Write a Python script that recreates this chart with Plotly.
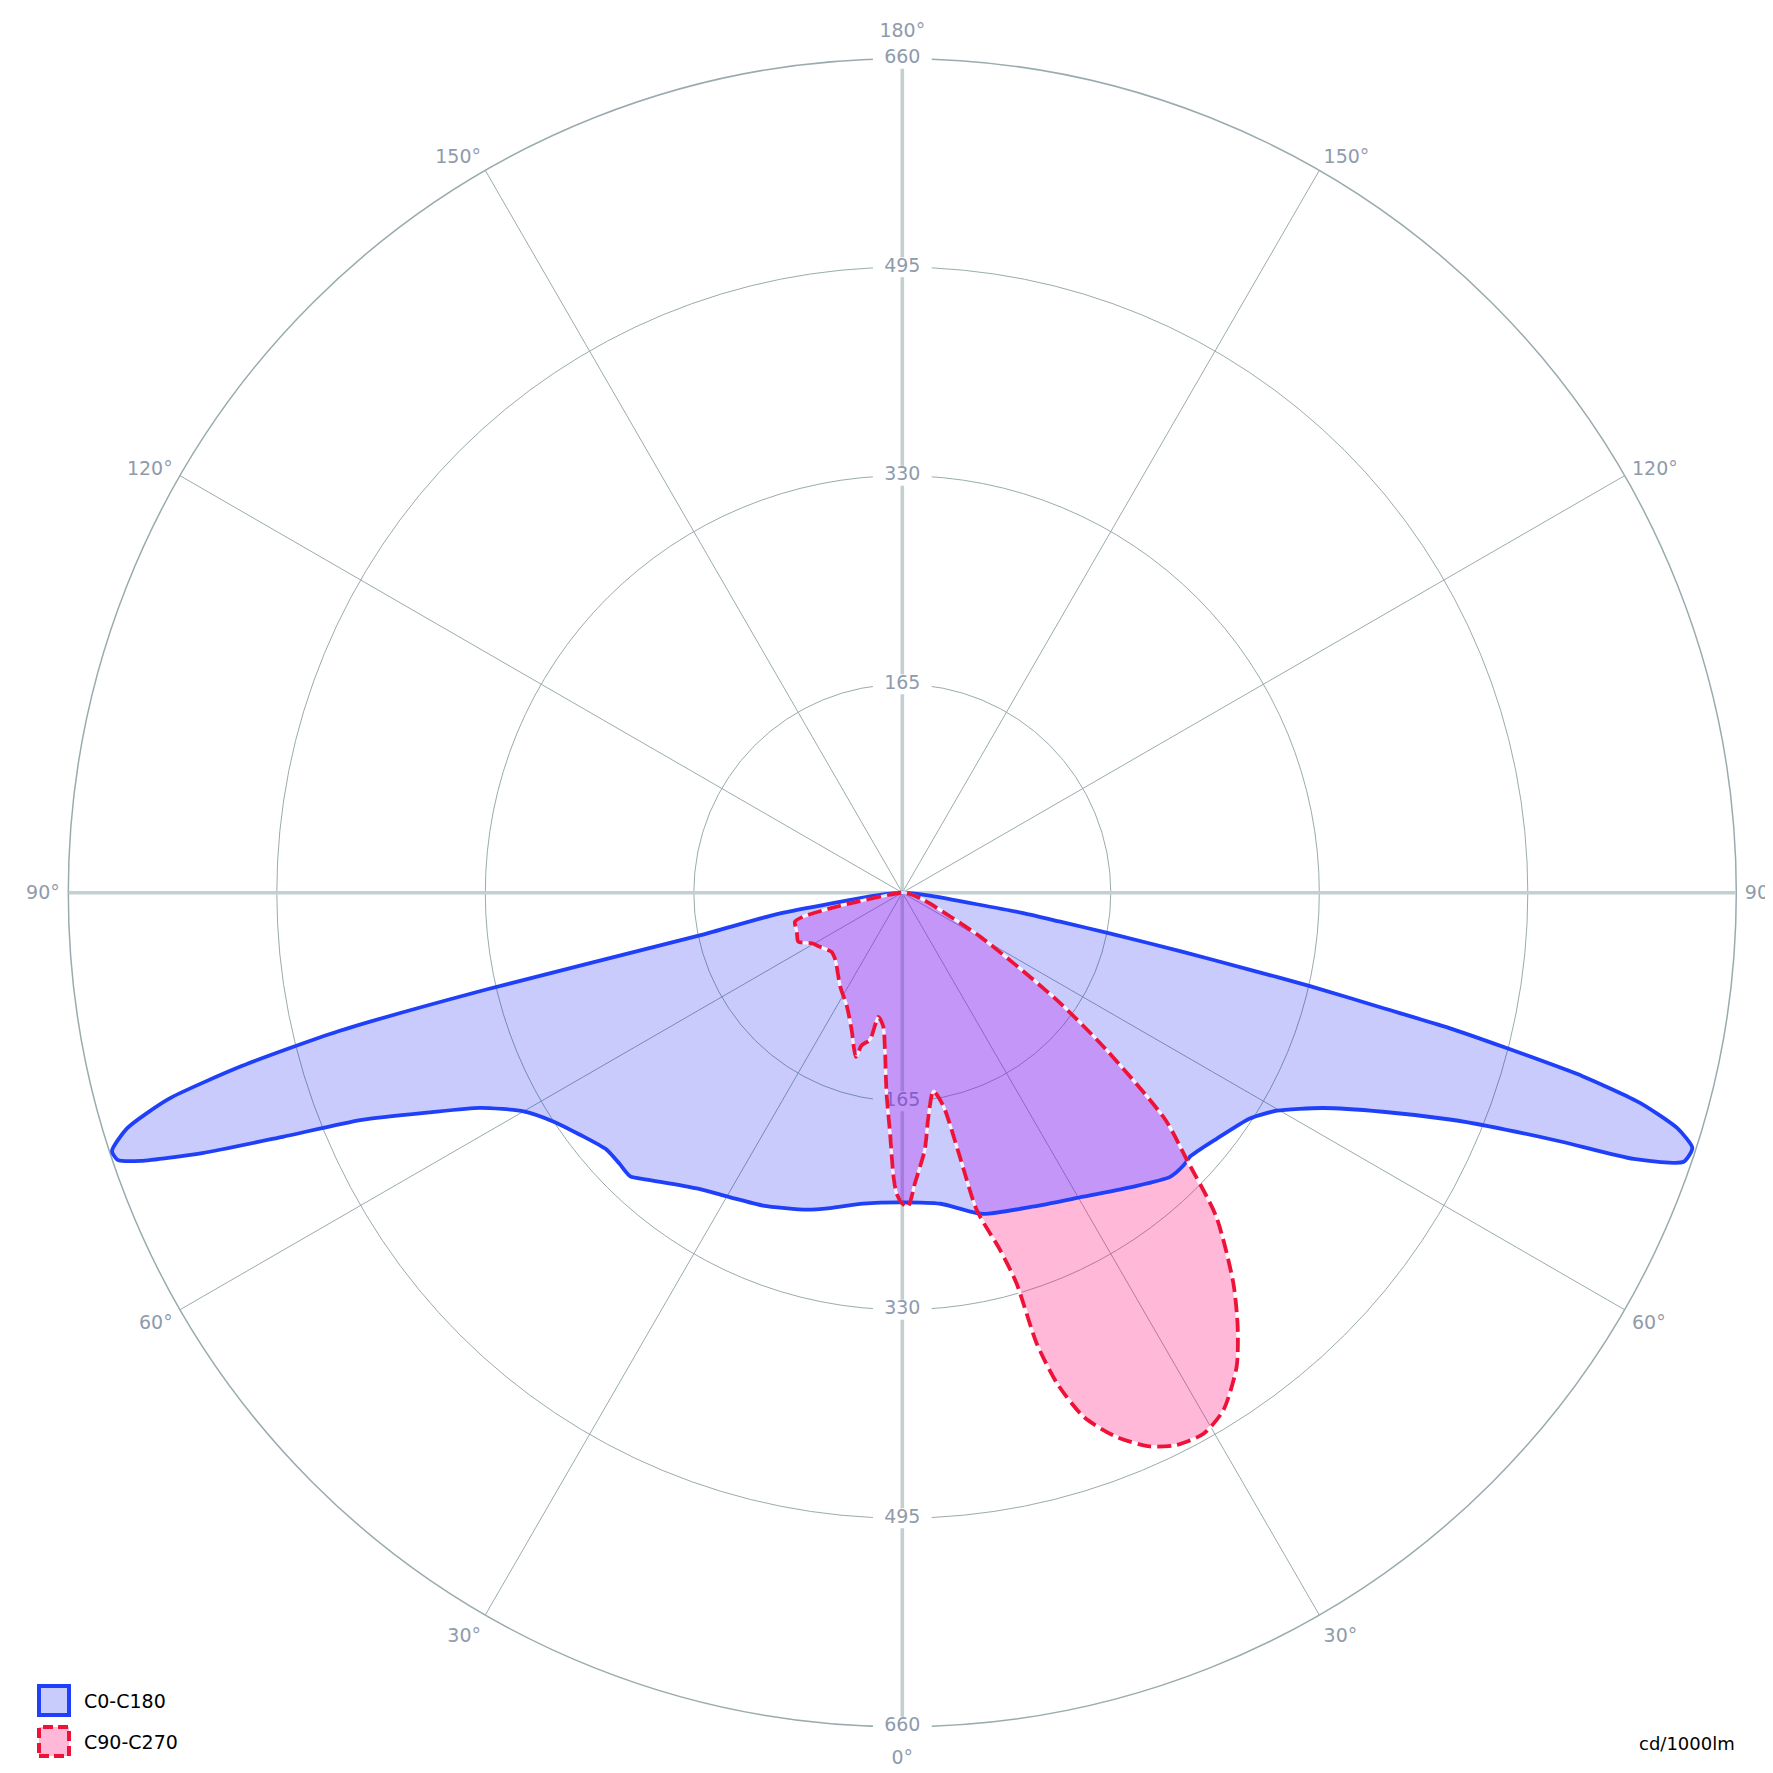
import math
import numpy as np
import plotly.graph_objects as go

# ---------------- data ----------------
series_names = ["C0-C180", "C90-C270"]

# C0 half plane (drawn on the right), gamma ascending
c0_gamma = [0, 7, 14, 22.5, 30.8, 38.2, 43.3, 45.9, 47.5, 52.0, 57.0, 59.8, 62.9, 65.5,
            67.5, 68.3, 69.3, 70.0, 71.0, 72.1, 73.1, 74.1, 74.9, 75.6, 76.1, 76.5, 77.1,
            77.5, 78.1, 78.9, 79.6, 80.4, 83.5, 86.0, 90]
c0_cd = [245, 248, 262, 269, 280, 296, 309, 310, 309, 316, 328, 343, 374, 418,
         469, 500, 557, 616, 654, 657, 641, 607, 558, 492, 446, 391, 331,
         282, 227, 168, 127, 98, 23, 8, 0]

# C180 half plane (drawn on the left), gamma ascending
c180_gamma = [0, 7.2, 12.9, 16.8, 24.0, 29.6, 34.8, 41.7, 43.8, 46.2, 49.0, 53.1, 56.7,
              60.0, 63.0, 65.1, 67.2, 68.5, 69.6, 70.6, 71.2, 71.9, 73.1, 74.3, 75.3,
              76.2, 76.9, 78.1, 80.4, 83.5, 86.0, 90]
c180_cd = [245, 248, 256, 262, 271, 277, 285, 304, 311, 310, 310, 319, 330,
           346, 375, 413, 464, 527, 591, 639, 656, 658, 641, 603, 540,
           459, 338, 163, 98, 23, 8, 0]

# C90 half plane (drawn on the right), gamma from 90 down to 0
c90_gamma = [90, 80, 71.7, 60.5, 55.2, 52.4, 49.2, 46.8, 44.1, 40.3, 37.7, 35.2, 31.8,
             29.1, 26.4, 24.1, 21.5, 19.1, 17.5, 16.6, 16.3, 15.3, 13.2, 12.3, 10.9,
             8.9, 6.6, 5.0, 2.5, 1.0, 0]
c90_cd = [0, 6, 17, 71, 149, 204, 275, 309, 357, 405, 434, 459, 482,
          490, 488, 480, 463, 439, 407, 372, 322, 293, 258, 214, 172,
          159, 179, 204, 230, 249, 246]

# C270 half plane (drawn on the left), gamma from 0 up to 90
c270_gamma = [0, 1.1, 1.8, 2.9, 4.5, 6.3, 8.1, 10.9, 12.4, 14.9, 15.8, 20.2, 26.0, 33.5,
              45.0, 50.1, 56.7, 60.8, 64.8, 69.7, 74.9, 76.4, 78.0, 79.8, 90]
c270_cd = [246, 238, 224, 191, 159, 125, 107, 100, 119, 125, 135, 116, 100, 89,
           75, 73, 78, 82, 91, 89, 88, 81, 53, 18, 0]

ring_values = [165, 330, 495, 660]
ring_labels = ["165", "330", "495", "660"]
angle_ticks = [0, 30, 60, 90, 120, 150, 180, 210, 240, 270, 300, 330]
angle_labels = ["", "30°", "60°", "90°", "120°", "150°", "", "150°", "120°", "90°", "60°", "30°"]
pole_ticks = [0, 180]
pole_labels = ["0°", "180°"]
unit_label = "cd/1000lm"
r_max = 660

# ---------------- styling / page geometry ----------------
PAGE = 1773
OFF = 8                      # default body margin of the page
W = H = PAGE - OFF
GRID = "#9aabae"
AXIS_THICK = "#c3cfd0"
LABEL = "#8f9bab"
BLUE = "#1f40f8"
RED = "#ee1238"
BLUE_FILL = "rgba(0,15,240,0.215)"
RED_FILL = "rgba(255,0,116,0.28)"
MIX_FILL = "rgba(124,22,239,0.45)"
FONT = "DejaVu Sans"
SMOOTH_BLUE = 0.6
SMOOTH_RED = 0.7


def px(x):
    return (x - OFF) / W


def py(y):
    return 1 - (y - OFF) / H


cx, cy, rad = 902.3, 892.7, 834.0          # page pixels
dom_x = [px(cx - rad), px(cx + rad)]
dom_y = [py(cy + rad), py(cy - rad)]


# ---------------- geometry helpers ----------------
def star_polygon(right_g, right_r, left_g, left_r):
    pts = sorted(zip([-g for g in left_g], left_r)) + sorted(zip(right_g, right_r))
    out = []
    for p, r in pts:
        if out and abs(out[-1][0] - p) < 1e-9:
            continue
        out.append((float(p), float(r)))
    return out


def xy(phi, r):
    a = math.radians(phi)
    return np.array([r * math.sin(a), -r * math.cos(a)])


def ray_r(poly, phi):
    for i in range(len(poly) - 1):
        p1, r1 = poly[i]
        p2, r2 = poly[i + 1]
        if p1 <= phi <= p2:
            if phi == p1:
                return r1
            if phi == p2:
                return r2
            P1, P2 = xy(p1, r1), xy(p2, r2)
            d = xy(phi, 1.0)
            e = P2 - P1
            den = d[0] * e[1] - d[1] * e[0]
            num = P1[0] * P2[1] - P1[1] * P2[0]
            if abs(den) < 1e-12:
                return min(r1, r2)
            return num / den
    return 0.0


def seg_cross(A1, A2, B1, B2):
    da, db = A2 - A1, B2 - B1
    den = da[0] * db[1] - da[1] * db[0]
    if abs(den) < 1e-12:
        return None
    t = ((B1[0] - A1[0]) * db[1] - (B1[1] - A1[1]) * db[0]) / den
    return A1 + t * da


def intersection(A, B):
    breaks = sorted(set([p for p, _ in A] + [p for p, _ in B]))
    res = []
    for i, ph in enumerate(breaks):
        ra, rb = ray_r(A, ph), ray_r(B, ph)
        res.append((ph, min(ra, rb)))
        if i < len(breaks) - 1:
            ph2 = breaks[i + 1]
            ra2, rb2 = ray_r(A, ph2), ray_r(B, ph2)
            if (ra - rb) * (ra2 - rb2) < 0:
                P = seg_cross(xy(ph, ra), xy(ph2, ra2), xy(ph, rb), xy(ph2, rb2))
                if P is not None:
                    res.append((math.degrees(math.atan2(P[0], -P[1])), float(np.hypot(*P))))
    return res


blue_poly = star_polygon(c0_gamma, c0_cd, c180_gamma, c180_cd)
red_poly = star_polygon(c90_gamma, c90_cd, c270_gamma, c270_cd)
mix_poly = intersection(blue_poly, red_poly)


def th(poly):
    return [p for p, _ in poly]


def rr(poly):
    return [r for _, r in poly]


fig = go.Figure()

# thick 0-180 and 90-270 axes
for t_line in ([0, 0, 180], [90, 90, 270]):
    fig.add_trace(go.Scatterpolar(r=[r_max, 0, r_max], theta=t_line, mode="lines",
                                  line=dict(color=AXIS_THICK, width=3.6), hoverinfo="skip",
                                  showlegend=False))

# ring labels (top and bottom) with white backing
lab_r = ring_values + ring_values
lab_t = [180] * len(ring_values) + [0] * len(ring_values)
lab_txt = ring_labels + ring_labels
fig.add_trace(go.Scatterpolar(r=lab_r, theta=lab_t, mode="markers+text", text=lab_txt,
                              textposition="middle center",
                              textfont=dict(family=FONT, size=19, color=LABEL),
                              marker=dict(symbol="line-ew", size=42, color="white",
                                          line=dict(color="white", width=20)),
                              cliponaxis=False, hoverinfo="skip", showlegend=False))

# fills: blue-only, red-only, overlap
blue_only = blue_poly + mix_poly[::-1]
red_only = red_poly + mix_poly[::-1]
for poly, col, sm in ((blue_only, BLUE_FILL, SMOOTH_BLUE), (red_only, RED_FILL, SMOOTH_RED),
                      (mix_poly, MIX_FILL, SMOOTH_RED)):
    fig.add_trace(go.Scatterpolar(r=rr(poly), theta=th(poly), mode="lines", fill="toself",
                                  fillcolor=col, line=dict(width=0, shape="spline", smoothing=sm),
                                  hoverinfo="skip", showlegend=False))

# outlines
fig.add_trace(go.Scatterpolar(r=rr(blue_poly), theta=th(blue_poly), mode="lines",
                              line=dict(color=BLUE, width=3.8, shape="spline",
                                        smoothing=SMOOTH_BLUE),
                              name=series_names[0], hoverinfo="skip", showlegend=False))
fig.add_trace(go.Scatterpolar(r=rr(red_poly), theta=th(red_poly), mode="lines",
                              line=dict(color="rgba(255,255,255,0.85)", width=3.2,
                                        shape="spline", smoothing=SMOOTH_RED),
                              hoverinfo="skip", showlegend=False))
fig.add_trace(go.Scatterpolar(r=rr(red_poly), theta=th(red_poly), mode="lines",
                              line=dict(color=RED, width=3.8, dash="14px,6px",
                                        shape="spline", smoothing=SMOOTH_RED),
                              name=series_names[1], hoverinfo="skip", showlegend=False))

# dummy trace for the overlay subplot carrying the 0°/180° labels
fig.add_trace(go.Scatterpolar(r=[0], theta=[0], mode="markers", marker=dict(size=1, opacity=0),
                              subplot="polar2", hoverinfo="skip", showlegend=False))

tickfont = dict(family=FONT, size=19, color=LABEL)
fig.update_layout(
    width=W, height=H, margin=dict(l=0, r=0, t=0, b=0),
    paper_bgcolor="white", showlegend=False,
    polar=dict(
        domain=dict(x=dom_x, y=dom_y), bgcolor="white",
        radialaxis=dict(range=[0, r_max], tickmode="array", tickvals=ring_values,
                        showticklabels=False, ticks="", showline=False,
                        gridcolor=GRID, gridwidth=1.3, layer="below traces"),
        angularaxis=dict(rotation=-90, direction="counterclockwise", tickmode="array",
                         tickvals=angle_ticks, ticktext=angle_labels, tickfont=tickfont,
                         ticks="outside", ticklen=4, tickcolor="rgba(0,0,0,0)",
                         showline=True, linecolor=GRID, linewidth=1.5,
                         gridcolor=GRID, gridwidth=1.2, layer="below traces"),
    ),
    polar2=dict(
        domain=dict(x=dom_x, y=dom_y), bgcolor="rgba(0,0,0,0)",
        radialaxis=dict(range=[0, r_max], visible=False),
        angularaxis=dict(rotation=-90, direction="counterclockwise", tickmode="array",
                         tickvals=pole_ticks, ticktext=pole_labels, tickfont=tickfont,
                         ticks="outside", ticklen=14, tickcolor="rgba(0,0,0,0)",
                         showline=False, showgrid=False),
    ),
)

# legend drawn as shapes + text (page pixel geometry)
leg_x0, leg_x1 = 39, 69
leg_rows = [(1686, 1715), (1727, 1756)]
leg_styles = [dict(color=BLUE, width=4), dict(color=RED, width=4, dash="10px,5px")]
leg_fills = ["rgb(200,204,252)", "rgb(255,184,216)"]
for (y0, y1), ln, fc, name in zip(leg_rows, leg_styles, leg_fills, series_names):
    fig.add_shape(type="rect", xref="paper", yref="paper",
                  x0=px(leg_x0), x1=px(leg_x1), y0=py(y1), y1=py(y0),
                  line=ln, fillcolor=fc, layer="above")
    fig.add_annotation(x=px(82), y=py((y0 + y1) / 2), xref="paper", yref="paper",
                       text=name, showarrow=False, xanchor="left", yanchor="middle",
                       font=dict(family=FONT, size=19, color="black"))

fig.add_annotation(x=px(1737), y=py(1743), xref="paper", yref="paper", text=unit_label,
                   showarrow=False, xanchor="right", yanchor="middle",
                   font=dict(family=FONT, size=18, color="black"))

fig.write_html("out.html")
